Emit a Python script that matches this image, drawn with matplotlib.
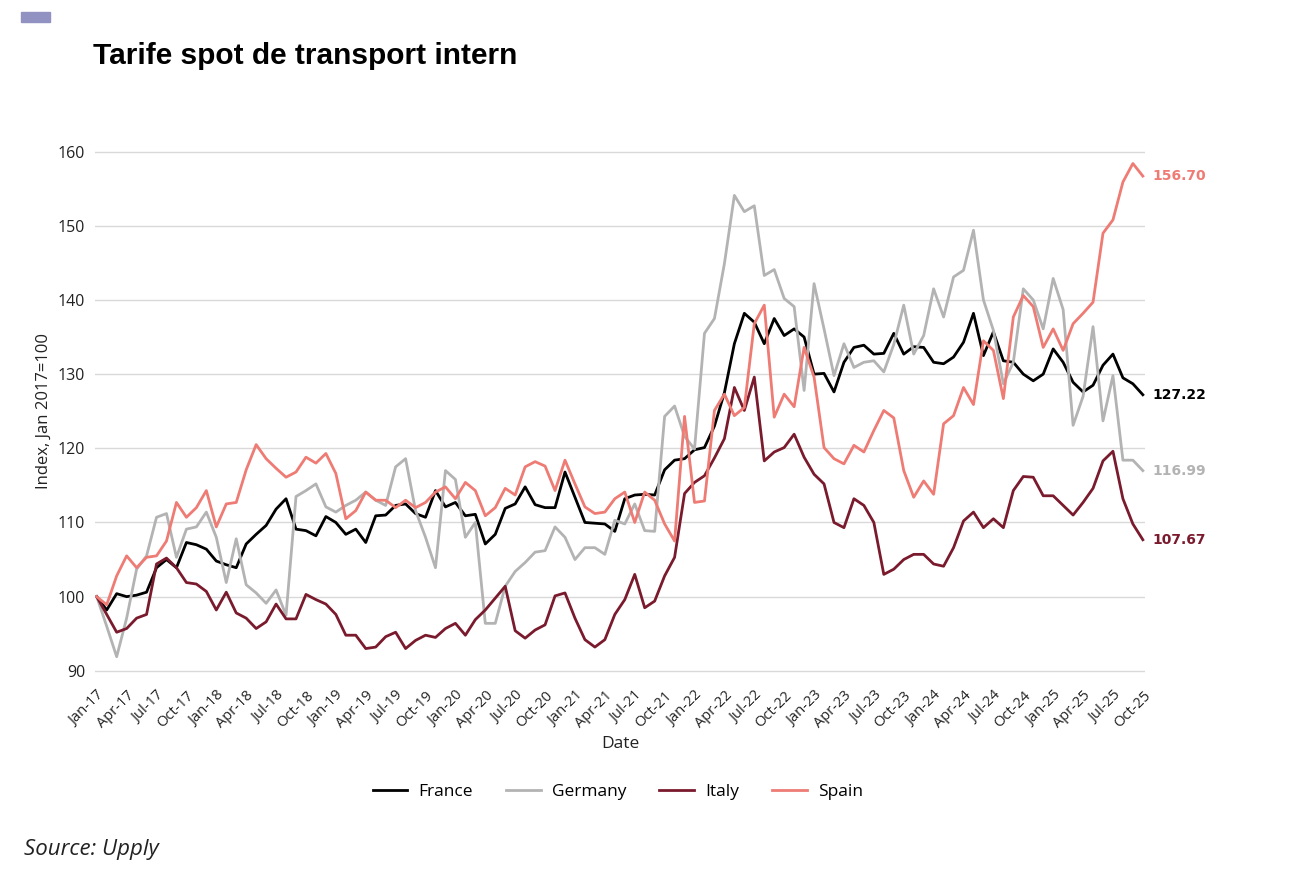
import numpy as np
import pandas as pd
import matplotlib
matplotlib.use("Agg")
import matplotlib.pyplot as plt

# monthly index, Jan 2017 = 100
months = pd.date_range("2017-01-01", "2025-10-01", freq="MS")

france = [
    100.0, 98.2, 100.4, 100.0, 100.2, 100.6, 103.9, 105.0, 103.9, 107.3, 107.0, 106.4,
    104.8, 104.3, 103.9, 107.1, 108.4, 109.6, 111.8, 113.2, 109.1, 108.9, 108.2, 110.8,
    110.0, 108.4, 109.1, 107.3, 110.9, 111.0, 112.3, 112.5, 111.2, 110.7, 114.3, 112.1,
    112.7, 110.9, 111.1, 107.1, 108.4, 111.9, 112.5, 114.8, 112.4, 112.0, 112.0, 116.8,
    113.4, 110.0, 109.9, 109.8, 108.8, 113.2, 113.7, 113.8, 113.7, 117.1, 118.4, 118.6,
    119.8, 120.1, 123.0, 127.5, 134.1, 138.2, 137.0, 134.1, 137.5, 135.2, 136.1, 135.0,
    130.0, 130.1, 127.6, 131.6, 133.6, 133.9, 132.7, 132.8, 135.5, 132.7, 133.7, 133.6,
    131.6, 131.4, 132.3, 134.3, 138.2, 132.5, 135.7, 131.8, 131.6, 130.0, 129.1, 130.0,
    133.4, 131.6, 128.9, 127.6, 128.5, 131.2, 132.7, 129.5, 128.7, 127.22,
]

germany = [
    100.0, 96.0, 91.9, 97.1, 103.7, 105.5, 110.7, 111.2, 105.3, 109.1, 109.4, 111.4,
    108.0, 101.9, 107.8, 101.6, 100.5, 99.1, 100.9, 97.5, 113.5, 114.3, 115.2, 112.1,
    111.4, 112.3, 113.0, 114.1, 113.0, 112.3, 117.5, 118.6, 111.6, 108.0, 103.9, 117.0,
    115.8, 108.0, 110.0, 96.4, 96.4, 101.4, 103.4, 104.6, 106.0, 106.2, 109.4, 108.0,
    105.0, 106.6, 106.6, 105.7, 110.3, 109.8, 112.5, 108.9, 108.8, 124.3, 125.7, 121.6,
    119.9, 135.5, 137.5, 144.9, 154.1, 151.9, 152.7, 143.3, 144.1, 140.2, 139.1, 127.8,
    142.2, 136.1, 129.8, 134.1, 130.9, 131.6, 131.8, 130.3, 134.0, 139.3, 132.7, 135.2,
    141.5, 137.7, 143.1, 144.0, 149.4, 140.0, 135.9, 128.7, 131.6, 141.5, 140.0, 136.1,
    142.9, 138.7, 123.1, 127.0, 136.4, 123.7, 129.8, 118.4, 118.4, 116.99,
]

italy = [
    100.0, 97.6, 95.2, 95.7, 97.1, 97.6, 104.4, 105.2, 103.9, 101.9, 101.7, 100.7,
    98.2, 100.6, 97.8, 97.1, 95.7, 96.6, 99.0, 97.0, 97.0, 100.3, 99.6, 99.0,
    97.6, 94.8, 94.8, 93.0, 93.2, 94.6, 95.2, 93.0, 94.1, 94.8, 94.5, 95.7,
    96.4, 94.8, 96.9, 98.2, 99.8, 101.4, 95.4, 94.4, 95.5, 96.2, 100.1, 100.5,
    97.1, 94.2, 93.2, 94.2, 97.6, 99.6, 103.0, 98.5, 99.4, 102.8, 105.3, 113.9,
    115.4, 116.3, 118.7, 121.3, 128.2, 125.1, 129.6, 118.3, 119.5, 120.1, 121.9, 118.8,
    116.5, 115.2, 110.0, 109.3, 113.2, 112.3, 110.0, 103.0, 103.7, 105.0, 105.7, 105.7,
    104.4, 104.1, 106.6, 110.2, 111.4, 109.3, 110.5, 109.3, 114.3, 116.2, 116.1, 113.6,
    113.6, 112.3, 111.0, 112.7, 114.6, 118.3, 119.6, 113.2, 109.8, 107.67,
]

spain = [
    100.0, 98.9, 102.8, 105.5, 103.9, 105.3, 105.5, 107.5, 112.7, 110.7, 112.0, 114.3,
    109.4, 112.5, 112.7, 117.1, 120.5, 118.6, 117.3, 116.1, 116.8, 118.8, 118.0, 119.3,
    116.6, 110.5, 111.6, 114.1, 113.0, 113.0, 112.0, 113.0, 112.0, 112.7, 114.1, 114.8,
    113.2, 115.4, 114.3, 110.9, 112.0, 114.6, 113.7, 117.5, 118.2, 117.6, 114.3, 118.4,
    115.2, 112.1, 111.2, 111.4, 113.2, 114.1, 110.0, 114.1, 113.0, 109.8, 107.5, 124.3,
    112.7, 112.9, 125.1, 127.3, 124.4, 125.5, 136.8, 139.3, 124.2, 127.3, 125.6, 133.6,
    129.6, 120.1, 118.6, 117.9, 120.4, 119.5, 122.4, 125.1, 124.1, 117.0, 113.4, 115.6,
    113.8, 123.3, 124.4, 128.2, 125.9, 134.5, 133.2, 126.7, 137.7, 140.6, 139.1, 133.6,
    136.1, 133.2, 136.8, 138.2, 139.7, 149.0, 150.8, 155.9, 158.4, 156.70,
]

names = ["France", "Germany", "Italy", "Spain"]
colors = ["#000000", "#b3b3b3", "#7a1a2d", "#ee7b74"]
values = [france, germany, italy, spain]

plt.rcParams["font.family"] = ["Open Sans", "DejaVu Sans"]

fig = plt.figure(figsize=(12.98, 8.74), dpi=100)
ax = fig.add_axes([0.073, 0.224, 0.809, 0.611])

x = np.arange(len(months))
for name, vals, col in zip(names, values, colors):
    ax.plot(x, vals, color=col, lw=2.0, label=name)
    ax.annotate(f"{vals[-1]:.2f}", (x[-1], vals[-1]), xytext=(7, 0),
                textcoords="offset points", va="center", ha="left",
                color=col, fontweight="bold", fontsize=10, family="DejaVu Sans")

ax.set_xlim(-0.2, 105.2)
ax.set_ylim(89, 161)
ax.set_yticks(range(90, 161, 10))
ax.set_xticks(x[::3])
ax.set_xticklabels([d.strftime("%b-%y") for d in months[::3]], rotation=45,
                   ha="right", rotation_mode="anchor", fontsize=10.5)
ax.tick_params(axis="y", length=0, pad=7, labelsize=11.5, labelcolor="#222222")
ax.tick_params(axis="x", length=0, pad=7, labelcolor="#222222")
ax.grid(axis="y", color="#d9d9d9", lw=1)
ax.set_axisbelow(True)
for s in ax.spines.values():
    s.set_visible(False)

ax.set_ylabel("Index, Jan 2017=100", fontsize=12, color="#222222", labelpad=4.5)
fig.text(620 / 1298, 1 - 744 / 874, "Date", ha="center", va="center",
         fontsize=12.5, color="#222222")

fig.legend(loc="center", bbox_to_anchor=(618 / 1298, 1 - 792 / 874), ncol=4,
           frameon=False, fontsize=12.5, handlelength=2.0, handletextpad=0.65,
           columnspacing=1.9)

fig.text(93 / 1298, 1 - 56 / 874, "Tarife spot de transport intern", ha="left",
         va="center", fontsize=21.5, fontweight="bold", family="Liberation Sans")
fig.text(24 / 1298, 1 - 849 / 874, "Source: Upply", ha="left", va="center",
         fontsize=16, style="italic", color="#222222")
fig.patches.append(plt.Rectangle((21 / 1298, 1 - 22 / 874), 29 / 1298, 10 / 874,
                                 transform=fig.transFigure, color="#9191c2"))

fig.savefig("out.png", dpi=100, facecolor="white")
